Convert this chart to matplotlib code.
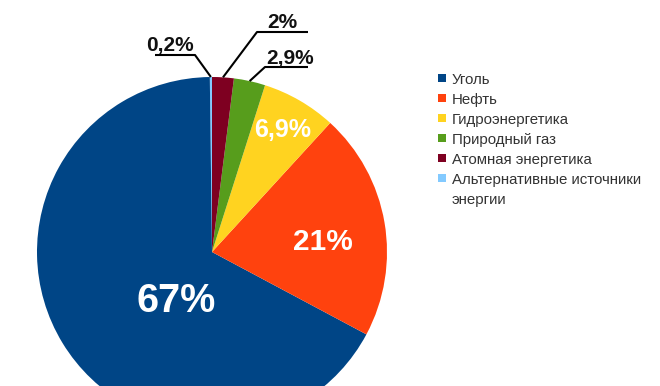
import matplotlib
matplotlib.use("Agg")
import matplotlib.pyplot as plt
import numpy as np
from matplotlib.patches import Rectangle

# Структура энергетики (в %), порядок как в легенде
categories = ["Уголь", "Нефть", "Гидроэнергетика", "Природный газ",
              "Атомная энергетика", "Альтернативные источники\nэнергии"]
shares = [67, 21, 6.9, 2.9, 2, 0.2]
share_labels = ["67%", "21%", "6,9%", "2,9%", "2%", "0,2%"]
colors = ["#004586", "#ff420e", "#ffd320", "#579d1c", "#7e0021", "#83caff"]

# порядок обхода по кругу (против часовой от верха)
draw_order = [5, 0, 1, 2, 3, 4]

W, H = 660, 386
plt.rcParams["font.family"] = ["Liberation Sans", "DejaVu Sans"]

fig = plt.figure(figsize=(W / 100, H / 100), dpi=100, facecolor="white")
ax = fig.add_axes([0, 0, 1, 1])


def px(x, y):
    # пиксели картинки -> координаты осей (y вверх)
    return x, H - y


cx, cy = px(212, 252)
R = 175

wedges, _ = ax.pie([shares[i] for i in draw_order],
                   colors=[colors[i] for i in draw_order],
                   startangle=90, counterclock=True,
                   center=(cx, cy), radius=R,
                   wedgeprops=dict(linewidth=0))
ax.set_xlim(0, W)
ax.set_ylim(0, H)
ax.set_aspect("equal")
ax.axis("off")

# ---------- подписи внутри ----------
inner = {0: ((176, 312), 28.5), 1: ((323, 250), 21.5), 2: ((283, 137), 18)}
for idx, ((x, y), fs) in inner.items():
    ax.text(*px(x, y), share_labels[idx], color="white", fontsize=fs,
            fontweight="bold", ha="center", va="baseline")

# ---------- выноски снаружи ----------
# индекс -> (излом, конец подчёркивания, центр текста x, базовая линия)
outer = {
    5: ((195, 55), 155, 170, 51),
    4: ((257, 32), 308, 282, 28),
    3: ((265, 67), 308, 290, 64),
}
for idx, ((ex, ey), ux, tx, ty) in outer.items():
    w = wedges[draw_order.index(idx)]
    mid = np.deg2rad((w.theta1 + w.theta2) / 2)
    ax_, ay_ = cx + R * np.cos(mid), cy + R * np.sin(mid)
    bx, by = px(ex, ey)
    ux_, _ = px(ux, ey)
    ax.plot([ax_, bx, ux_], [ay_, by, by], color="black", lw=1.5,
            solid_capstyle="butt", clip_on=False)
    ax.text(*px(tx, ty), share_labels[idx], color="#111111", fontsize=15,
            fontweight="bold", ha="center", va="baseline")

# ---------- легенда ----------
for i, (name, col) in enumerate(zip(categories, colors)):
    y0 = 78 + 20 * i
    sx, sy = px(438, y0 + 4)
    ax.add_patch(Rectangle((sx, sy), 8, 8, facecolor=col, edgecolor="none"))
    for k, line in enumerate(name.split("\n")):
        ax.text(*px(452, y0 + 6 + 20 * k), line, color="#333333",
                fontsize=10.8, ha="left", va="baseline")

plt.savefig("out.png", dpi=100, facecolor="white")
plt.close(fig)
